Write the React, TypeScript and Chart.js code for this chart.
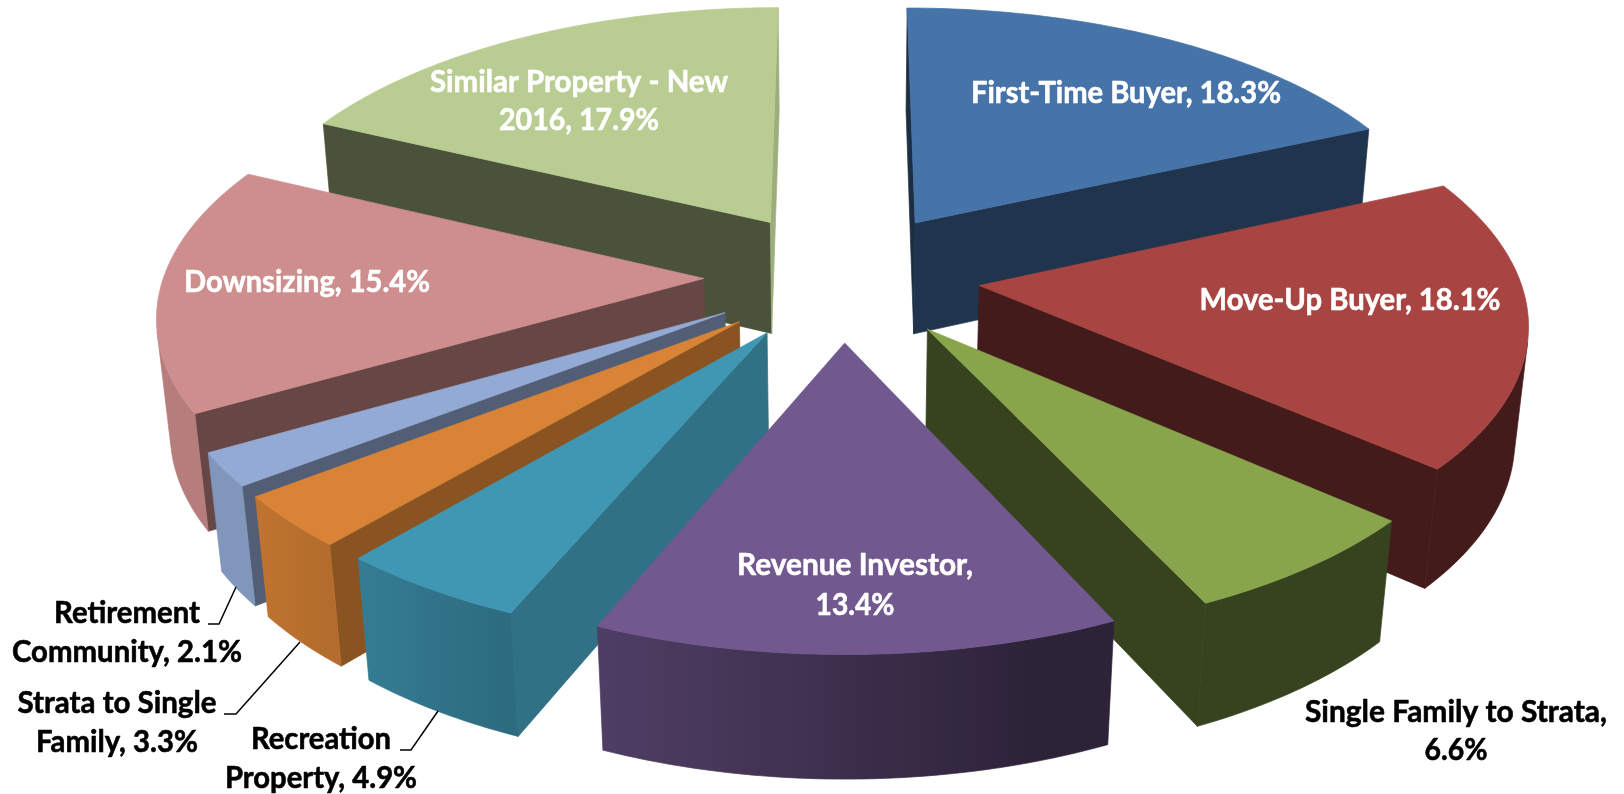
import React, { useEffect, useRef } from "react";
import { Chart, registerables } from "chart.js";

Chart.register(...registerables);

const categories = [
  "First-Time Buyer",
  "Move-Up Buyer",
  "Single Family to Strata",
  "Revenue Investor",
  "Recreation Property",
  "Strata to Single Family",
  "Retirement Community",
  "Downsizing",
  "Similar Property - New 2016",
];
const shares = [18.3, 18.1, 6.6, 13.4, 4.9, 3.3, 2.1, 15.4, 17.9];
const colors = [
  "#4673A8",
  "#A84442",
  "#89A54C",
  "#71588F",
  "#4097B3",
  "#D98336",
  "#93ABD4",
  "#CE8E8D",
  "#B9CD92",
];

// Layout of the labels (separate from the data): words on first line, centre x, baselines, fitted widths, colour.
const labelLayout = [
  { words: 99, x: 1126, y: [103], w: [310], color: "#fff" },
  { words: 99, x: 1350, y: [310], w: [301], color: "#fff" },
  { words: 4, x: 1456, y: [722, 760], w: [302, 63], color: "#000" },
  { words: 2, x: 855, y: [575, 615], w: [236, 79], color: "#fff" },
  { words: 1, x: 321, y: [749, 788], w: [140, 192], color: "#000" },
  { words: 3, x: 117, y: [713, 752], w: [199, 162], color: "#000" },
  { words: 1, x: 127, y: [623, 662], w: [146, 230], color: "#000" },
  { words: 99, x: 307, y: [292], w: [246], color: "#fff" },
  { words: 4, x: 579, y: [92, 130], w: [298, 160], color: "#fff" },
];
const leaderLines = [
  [[208, 624], [219, 624], [236, 587]],
  [[224, 714], [236, 714], [300, 642]],
  [[400, 750], [411, 750], [438, 711]],
];

// Camera that maps the pie's plane to the screen (perspective seen from above).
const view = {
  dx: 30,
  dy: -121,
  scaleX: 1.534,
  scaleY: 0.722,
  depth: 0.327,
  persp: 0.125,
  perspDepth: 0.02,
};

const clamp = (v: number, a: number, b: number) => Math.min(b, Math.max(a, v));

function shade(hex: string, f: number) {
  const n = parseInt(hex.slice(1), 16);
  const c = [(n >> 16) & 255, (n >> 8) & 255, n & 255].map((v) => Math.round(v * f));
  return `rgb(${c[0]},${c[1]},${c[2]})`;
}

type Pt = [number, number];

function poly(ctx: CanvasRenderingContext2D, pts: Pt[], fill: string | CanvasGradient) {
  ctx.beginPath();
  pts.forEach((p, i) => (i ? ctx.lineTo(p[0], p[1]) : ctx.moveTo(p[0], p[1])));
  ctx.closePath();
  ctx.fillStyle = fill;
  ctx.strokeStyle = fill;
  ctx.lineWidth = 0.7;
  ctx.fill();
  ctx.stroke();
}

const area = (q: Pt[]) =>
  q.reduce((s, p, i) => {
    const n = q[(i + 1) % q.length];
    return s + p[0] * n[1] - n[0] * p[1];
  }, 0);

const pie3d = {
  id: "pie3d",
  beforeDatasetsDraw(chart: any) {
    const ctx: CanvasRenderingContext2D = chart.ctx;
    const arcs: any[] = chart.getDatasetMeta(0).data;
    const order = arcs
      .map((arc, i) => ({ arc, i, mid: (arc.startAngle + arc.endAngle) / 2 }))
      .sort((a, b) => Math.sin(a.mid) - Math.sin(b.mid));

    for (const { arc, mid } of order) {
      const r = arc.outerRadius;
      const e = arc.options.offset / r;
      const cx = arc.x + view.dx;
      const cy = arc.y + view.dy;
      const base = arc.options.backgroundColor as string;
      const ox = Math.cos(mid) * e;
      const oy = Math.sin(mid) * e;
      const project = (X: number, Y: number, d: number): Pt => {
        const w = 1 - view.persp * Y + view.perspDepth * d;
        return [cx + (r * view.scaleX * X) / w, cy + (r * view.scaleY * Y + r * view.depth * d) / w];
      };
      const at = (t: number, rad: number, d: number) =>
        project(ox + Math.cos(t) * rad, oy + Math.sin(t) * rad, d);

      // Radial walls
      const radial = (a: number, isStart: boolean) => {
        const q: Pt[] = isStart
          ? [at(a, 0, 0), at(a, 1, 0), at(a, 1, 1), at(a, 0, 1)]
          : [at(a, 1, 0), at(a, 0, 0), at(a, 0, 1), at(a, 1, 1)];
        if (area(q) >= 0) return;
        const nx = isStart ? Math.sin(a) : -Math.sin(a);
        const ny = isStart ? -Math.cos(a) : Math.cos(a);
        const phi = ((Math.atan2(nx, -ny) * 180) / Math.PI + 360) % 360;
        poly(ctx, q, shade(base, clamp(0.4 + (165 - phi) * 0.0067, 0.4, 0.85)));
      };
      radial(arc.startAngle, true);
      radial(arc.endAngle, false);

      // Outer curved wall: the visible facets joined into one shape with a gradient by direction
      const steps = Math.max(2, Math.ceil((arc.endAngle - arc.startAngle) / 0.02));
      const top: Pt[] = [at(mid, 0, 0)];
      const upper: Pt[] = [];
      const lower: Pt[] = [];
      const tones: { x: number; color: string }[] = [];
      for (let s = 0; s <= steps; s++) {
        const t = arc.startAngle + ((arc.endAngle - arc.startAngle) * s) / steps;
        top.push(at(t, 1, 0));
        if (s === steps) break;
        const t2 = arc.startAngle + ((arc.endAngle - arc.startAngle) * (s + 1)) / steps;
        const q: Pt[] = [at(t, 1, 0), at(t2, 1, 0), at(t2, 1, 1), at(t, 1, 1)];
        if (area(q) < 0) {
          if (!upper.length) {
            upper.push(q[0]);
            lower.push(q[3]);
          }
          upper.push(q[1]);
          lower.push(q[2]);
          const X = Math.cos((t + t2) / 2);
          tones.push({ x: (q[0][0] + q[1][0]) / 2, color: shade(base, clamp(0.53 - 0.45 * X, 0.4, 0.88)) });
        }
      }
      if (upper.length) {
        const xs = [...upper, ...lower].map((p) => p[0]);
        const x0 = Math.min(...xs);
        const x1 = Math.max(...xs);
        const g = ctx.createLinearGradient(x0, 0, x1, 0);
        tones.forEach((k) => g.addColorStop(clamp((k.x - x0) / (x1 - x0), 0, 1), k.color));
        poly(ctx, [...upper, ...lower.reverse()], g);
      }
      poly(ctx, top, base);
    }

    // Labels and leader lines
    ctx.strokeStyle = "#000";
    ctx.lineWidth = 1.5;
    for (const line of leaderLines) {
      ctx.beginPath();
      line.forEach((p, i) => (i ? ctx.lineTo(p[0], p[1]) : ctx.moveTo(p[0], p[1])));
      ctx.stroke();
    }
    ctx.font = '700 31px Lato, "Open Sans", sans-serif';
    ctx.textAlign = "center";
    ctx.textBaseline = "alphabetic";
    ctx.lineJoin = "round";
    categories.forEach((name, i) => {
      const lay = labelLayout[i];
      const words = `${name}, ${shares[i].toFixed(1)}%`.split(" ");
      const lines = [words.slice(0, lay.words).join(" "), words.slice(lay.words).join(" ")].filter(Boolean);
      ctx.fillStyle = lay.color;
      ctx.strokeStyle = lay.color;
      ctx.lineWidth = 0.6;
      lines.forEach((text, k) => {
        ctx.fillText(text, lay.x, lay.y[k], lay.w[k]);
        ctx.strokeText(text, lay.x, lay.y[k], lay.w[k]);
      });
    });
    return false;
  },
};

export default function App() {
  const ref = useRef<HTMLCanvasElement>(null);
  useEffect(() => {
    const chart = new Chart(ref.current!, {
      type: "pie",
      data: {
        labels: categories,
        datasets: [{ data: shares, backgroundColor: colors, borderWidth: 0, offset: 90 }],
      },
      options: {
        animation: false,
        responsive: false,
        layout: { padding: 0 },
        plugins: { legend: { display: false }, tooltip: { enabled: false }, title: { display: false } },
      },
      plugins: [pie3d],
    } as any);
    return () => chart.destroy();
  }, []);
  return (
    <div style={{ position: "fixed", left: 0, top: 0, width: 1624, height: 794, background: "#fff" }}>
      <canvas ref={ref} width={1624} height={794} style={{ display: "block" }} />
    </div>
  );
}
